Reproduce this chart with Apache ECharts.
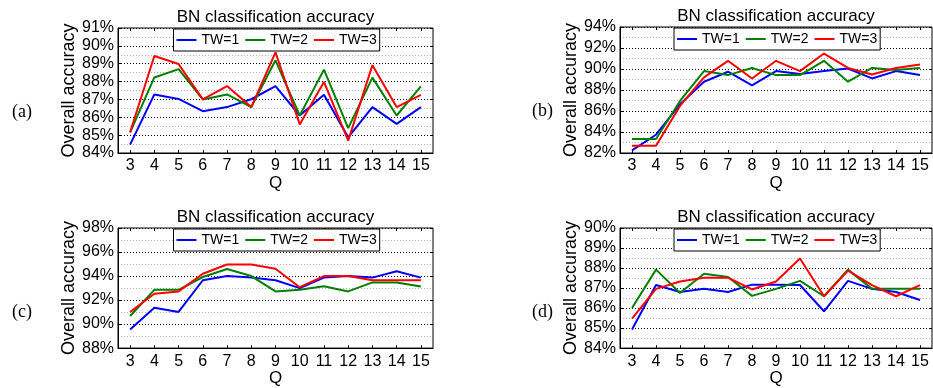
<!DOCTYPE html>
<html>
<head>
<meta charset="utf-8">
<script src="https://cdn.jsdelivr.net/npm/echarts@6/dist/echarts.min.js"></script>
<style>
  html, body { margin: 0; padding: 0; background: #fff; }
  #main { width: 933px; height: 388px; }
</style>
</head>
<body>
<div id="main"></div>
<script>
// Q values on the x axis
var qLabels = ['3', '4', '5', '6', '7', '8', '9', '10', '11', '12', '13', '14', '15'];
var seriesNames = ['TW=1', 'TW=2', 'TW=3'];

// (a)
var accA1 = [84.47, 87.28, 87.03, 86.34, 86.57, 87.01, 87.75, 86.1, 87.26, 84.88, 86.57, 85.63, 86.57];
var accA2 = [85.16, 88.23, 88.7, 87.0, 87.28, 86.57, 89.19, 86.1, 88.67, 85.39, 88.22, 86.1, 87.73];
var accA3 = [85.16, 89.43, 88.98, 87.0, 87.75, 86.57, 89.64, 85.6, 87.98, 84.69, 88.92, 86.57, 87.26];
// (b)
var accB1 = [82.25, 83.74, 86.64, 88.79, 89.74, 88.44, 89.8, 89.52, 89.8, 90.05, 89.1, 89.8, 89.42];
var accB2 = [83.33, 83.33, 86.96, 89.8, 89.42, 90.1, 89.42, 89.42, 90.78, 88.79, 90.1, 89.9, 90.1];
var accB3 = [82.69, 82.69, 86.48, 89.2, 90.78, 89.1, 90.78, 89.8, 91.47, 90.1, 89.48, 90.1, 90.43];
// (c)
var accC1 = [89.55, 91.36, 91.01, 93.65, 94.0, 93.87, 93.65, 92.99, 93.87, 94.0, 93.87, 94.4, 93.87];
var accC2 = [90.67, 92.85, 92.85, 93.92, 94.59, 94.0, 92.72, 92.85, 93.15, 92.72, 93.47, 93.47, 93.12];
var accC3 = [91.01, 92.53, 92.72, 94.19, 94.96, 94.96, 94.61, 93.07, 94.0, 94.0, 93.65, 93.65, 93.65];
// (d)
var accD1 = [84.93, 87.15, 86.8, 86.96, 86.8, 87.17, 87.17, 87.15, 85.84, 87.36, 86.96, 86.8, 86.4];
var accD2 = [86.0, 87.92, 86.75, 87.71, 87.55, 86.61, 86.96, 87.36, 86.59, 87.92, 86.96, 86.96, 86.96];
var accD3 = [85.47, 86.96, 87.33, 87.52, 87.52, 86.93, 87.33, 88.48, 86.59, 87.87, 87.15, 86.59, 87.15];

var lineColors = ['#0000ff', '#008000', '#ff0000'];

var panels = [
    {tag: '(a)', left: 118, top: 28, width: 315, height: 125, min: 84, max: 91, step: 1, data: [accA1, accA2, accA3]},
    {tag: '(b)', left: 620, top: 27, width: 312, height: 126, min: 82, max: 94, step: 2, data: [accB1, accB2, accB3]},
    {tag: '(c)', left: 118, top: 228, width: 315, height: 125, min: 88, max: 98, step: 2, data: [accC1, accC2, accC3]},
    {tag: '(d)', left: 620, top: 228, width: 312, height: 125, min: 84, max: 90, step: 1, data: [accD1, accD2, accD3]}
];

var font = 'Liberation Sans';
var option = {
    backgroundColor: '#fff',
    animation: false,
    title: [], legend: [], grid: [], xAxis: [], yAxis: [], series: [], graphic: []
};

panels.forEach(function(p, i) {
    var cx = p.left + p.width / 2;
    option.grid.push({
        left: p.left, top: p.top, width: p.width, height: p.height,
        show: true, borderColor: '#000', borderWidth: 1, backgroundColor: '#fff'
    });
    option.title.push({
        text: 'BN classification accuracy',
        left: cx, top: p.top - 19, textAlign: 'center', padding: 0,
        textStyle: {fontFamily: font, fontSize: 17, fontWeight: 'normal', color: '#000'}
    });
    // legend: plain line keys in a boxed frame
    option.legend.push({
        data: seriesNames,
        left: cx - 102, top: p.top + 1,
        orient: 'horizontal', icon: 'rect',
        backgroundColor: '#fff', borderColor: '#000', borderWidth: 1,
        padding: [4, 3], itemGap: 6, itemWidth: 20, itemHeight: 2,
        textStyle: {fontFamily: font, fontSize: 14, color: '#000', lineHeight: 14}
    });
    // bottom x axis
    option.xAxis.push({
        type: 'category', gridIndex: i, data: qLabels, boundaryGap: true,
        axisLine: {show: true, lineStyle: {color: '#000'}},
        axisTick: {show: true, inside: true, alignWithLabel: true, length: 3, lineStyle: {color: '#000'}},
        axisLabel: {fontFamily: font, fontSize: 16, color: '#000', margin: 5},
        splitLine: {show: false},
        name: 'Q', nameLocation: 'middle', nameGap: 20,
        nameTextStyle: {fontFamily: font, fontSize: 17, color: '#000'}
    });
    // top x axis, ticks only
    option.xAxis.push({
        type: 'category', gridIndex: i, data: qLabels, boundaryGap: true, position: 'top',
        axisLine: {show: false},
        axisTick: {show: true, inside: true, alignWithLabel: true, length: 3, lineStyle: {color: '#000'}},
        axisLabel: {show: false}, splitLine: {show: false}
    });
    option.yAxis.push({
        type: 'value', gridIndex: i, min: p.min, max: p.max, interval: p.step,
        axisLine: {show: true, lineStyle: {color: '#000'}},
        axisTick: {show: true, inside: true, length: 3, lineStyle: {color: '#000'}},
        axisLabel: {fontFamily: font, fontSize: 16, color: '#000', margin: 4, formatter: '{value}%'},
        splitLine: {show: true, lineStyle: {color: '#000', type: [1, 2], width: 1}},
        minorTick: {show: false, splitNumber: 2},
        minorSplitLine: {show: true, lineStyle: {color: '#b0b0b0', type: [1, 2], width: 1}},
        name: 'Overall accuracy', nameLocation: 'middle', nameGap: 37,
        nameTextStyle: {fontFamily: font, fontSize: 18, color: '#000'}
    });
    option.yAxis.push({
        type: 'value', gridIndex: i, min: p.min, max: p.max, interval: p.step, position: 'right',
        axisLine: {show: false},
        axisTick: {show: true, inside: true, length: 3, lineStyle: {color: '#000'}},
        axisLabel: {show: false}, splitLine: {show: false}
    });
    p.data.forEach(function(vals, k) {
        option.series.push({
            name: seriesNames[k], type: 'line',
            xAxisIndex: i * 2, yAxisIndex: i * 2,
            data: vals, symbol: 'none', smooth: false,
            lineStyle: {color: lineColors[k], width: 2},
            itemStyle: {color: lineColors[k]}
        });
    });
    option.graphic.push({
        type: 'text',
        left: p.left < 300 ? 12 : 532,
        top: p.top + 75,
        style: {text: p.tag, font: '18px "Liberation Serif"', fill: '#000'}
    });
});

var myChart = echarts.init(document.getElementById('main'));
myChart.setOption(option);
</script>
</body>
</html>
